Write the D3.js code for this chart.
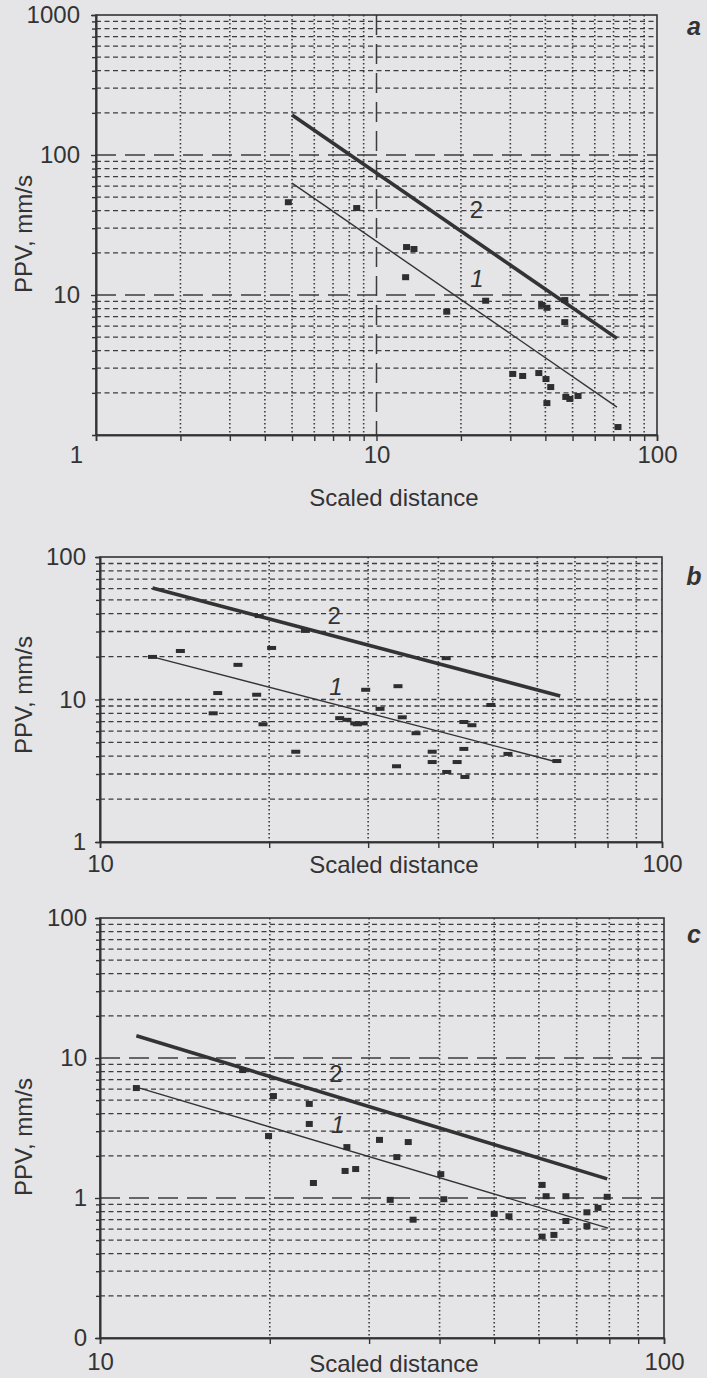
<!DOCTYPE html>
<html>
<head>
<meta charset="utf-8">
<script src="https://cdn.jsdelivr.net/npm/d3@7"></script>
<style>
body { margin: 0; background: #e5e5e7; }
svg { display: block; font-family: "Liberation Sans", Arial, sans-serif; }
</style>
</head>
<body>
<svg id="chart" width="707" height="1378"></svg>
<script>
// ---- panel a ----
var aTicksX = [1, 10, 100];
var aTicksY = [10, 100, 1000];
var aLabelsY = ["10", "100", "1000"];
var aPointsX = [4.85, 8.5, 12.8, 13.6, 12.7, 17.8, 24.5, 38.8, 40.5, 46.9, 46.9, 30.6, 33.2, 37.9, 40.2, 41.8, 40.5, 47.3, 48.9, 52.3, 72.6];
var aPointsY = [46, 41.8, 22, 21.3, 13.4, 7.6, 9.1, 8.5, 8.1, 9.2, 6.4, 2.73, 2.64, 2.77, 2.51, 2.2, 1.69, 1.87, 1.81, 1.9, 1.14];
var aLine1 = [[5, 63], [72, 1.58]];
var aLine2 = [[5, 193], [72, 4.9]];
var aLineLabels = [[22.7, 41, "2"], [22.8, 13.2, "1"]];

// ---- panel b ----
var bTicksX = [10, 100];
var bTicksY = [1, 10, 100];
var bLabelsY = ["1", "10", "100"];
var bPointsX = [12.4, 13.9, 15.9, 16.2, 17.6, 19, 19.2, 19.5, 20.2, 22.3, 23.2, 26.7, 27.5, 28.4, 28.7, 29.4, 29.7, 31.5, 33.7, 33.9, 34.5, 36.5, 39, 39, 41.3, 41.4, 43.2, 44.4, 44.4, 45.9, 44.6, 49.6, 53.2, 65];
var bPointsY = [19.9, 21.9, 8.0, 11.1, 17.5, 10.8, 38.5, 6.7, 23, 4.3, 30.3, 7.4, 7.2, 6.8, 6.7, 6.8, 11.7, 8.6, 3.4, 12.4, 7.5, 5.8, 4.3, 3.64, 19.5, 3.1, 3.64, 4.5, 6.95, 6.6, 2.86, 9.15, 4.15, 3.7];
var bLine1 = [[12.4, 19.9], [65, 3.64]];
var bLine2 = [[12.4, 60.6], [65.9, 10.6]];
var bLineLabels = [[26.1, 39.2, "2"], [26.3, 12.4, "1"]];

// ---- panel c ----
var cTicksX = [10, 100];
var cTicksY = [0.1, 1, 10, 100];
var cLabelsY = ["0", "1", "10", "100"];
var cPointsX = [11.6, 17.9, 20.3, 19.9, 23.5, 23.5, 23.9, 27.4, 27.2, 28.4, 31.3, 33.6, 35.2, 32.7, 35.9, 40.2, 40.7, 50, 53.1, 60.8, 61.8, 67, 60.8, 63.8, 67, 73, 73, 76.4, 79.3];
var cPointsY = [6.1, 8.2, 5.35, 2.77, 4.7, 3.38, 1.28, 2.31, 1.56, 1.61, 2.6, 1.96, 2.51, 0.97, 0.70, 1.48, 0.98, 0.77, 0.74, 1.24, 1.03, 1.03, 0.53, 0.545, 0.685, 0.79, 0.63, 0.85, 1.02];
var cLine1 = [[11.6, 6.2], [79.6, 0.61]];
var cLine2 = [[11.6, 14.4], [79.3, 1.37]];
var cLineLabels = [[26.2, 7.8, "2"], [26.4, 3.38, "1"]];

var INK = "#333";
var GRID = "#3c3c3c";
var FONT = "24px";
var svg = d3.select("#chart");

var panels = [
    { tag: "a", tagY: 35, left: 96, right: 657, top: 15, bottom: 435,
      xDomain: [1, 100], yDomain: [1, 1000],
      xTicks: aTicksX, yTicks: aTicksY, yLabels: aLabelsY,
      xLong: [10], yLong: [10, 100], xPad: 5, yPad: 11, titleY: 506, ppvY: 234,
      px: aPointsX, py: aPointsY, mark: [7, 6],
      line1: aLine1, line2: aLine2, lineLabels: aLineLabels },
    { tag: "b", tagY: 585, left: 100, right: 662, top: 557, bottom: 842,
      xDomain: [10, 100], yDomain: [1, 100],
      xTicks: bTicksX, yTicks: bTicksY, yLabels: bLabelsY,
      xLong: [], yLong: [], xPad: 7, yPad: 9, titleY: 873, ppvY: 695,
      px: bPointsX, py: bPointsY, mark: [9, 4],
      line1: bLine1, line2: bLine2, lineLabels: bLineLabels },
    { tag: "c", tagY: 943, left: 100, right: 664, top: 918, bottom: 1338,
      xDomain: [10, 100], yDomain: [0.1, 100],
      xTicks: cTicksX, yTicks: cTicksY, yLabels: cLabelsY,
      xLong: [], yLong: [1, 10], xPad: 9, yPad: 8, titleY: 1372, ppvY: 1137,
      px: cPointsX, py: cPointsY, mark: [7, 6],
      line1: cLine1, line2: cLine2, lineLabels: cLineLabels }
];

panels.forEach(drawPanel);

function isMajor(v) {
    var l = Math.log10(v);
    return Math.abs(l - Math.round(l)) < 1e-9;
}

function drawPanel(p) {
    var x = d3.scaleLog().domain(p.xDomain).range([p.left, p.right]);
    var y = d3.scaleLog().domain(p.yDomain).range([p.bottom, p.top]);
    var g = svg.append("g");

    var xMinor = x.ticks().filter(function (v) { return !isMajor(v); });
    var yMinor = y.ticks().filter(function (v) { return !isMajor(v); });
    var yMajorIn = y.ticks().filter(function (v) {
        return isMajor(v) && v > p.yDomain[0] && v < p.yDomain[1];
    });

    // horizontal grid
    g.selectAll(".hgrid").data(yMinor.concat(yMajorIn)).enter().append("line")
        .attr("x1", p.left).attr("x2", p.right)
        .attr("y1", function (d) { return y(d); })
        .attr("y2", function (d) { return y(d); })
        .attr("stroke", GRID)
        .attr("stroke-width", function (d) { return p.yLong.indexOf(d) >= 0 ? 1.5 : 1.3; })
        .attr("stroke-dasharray", function (d) { return p.yLong.indexOf(d) >= 0 ? "20,9" : "5,3.5"; });

    // vertical grid
    g.selectAll(".vgrid").data(xMinor.concat(p.xLong)).enter().append("line")
        .attr("y1", p.top).attr("y2", p.bottom)
        .attr("x1", function (d) { return x(d); })
        .attr("x2", function (d) { return x(d); })
        .attr("stroke", GRID)
        .attr("stroke-width", function (d) { return p.xLong.indexOf(d) >= 0 ? 1.5 : 1.6; })
        .attr("stroke-dasharray", function (d) { return p.xLong.indexOf(d) >= 0 ? "20,9" : "1.6,2.4"; });

    // frame
    g.append("rect")
        .attr("x", p.left).attr("y", p.top)
        .attr("width", p.right - p.left).attr("height", p.bottom - p.top)
        .attr("fill", "none").attr("stroke", INK).attr("stroke-width", 1.6);

    // axes
    g.append("g")
        .attr("transform", "translate(" + p.left + ",0)")
        .call(d3.axisLeft(y).tickValues(p.yTicks).tickSizeOuter(0).tickSizeInner(5).tickPadding(p.yPad)
            .tickFormat(function (d, i) { return p.yLabels[i]; }));
    g.append("g")
        .attr("transform", "translate(" + p.left + ",0)")
        .call(d3.axisLeft(y).tickValues(yMinor).tickSizeOuter(0).tickSize(4).tickFormat(""));

    var xAxis = g.append("g")
        .attr("transform", "translate(0," + p.bottom + ")")
        .call(d3.axisBottom(x).tickValues(p.xTicks).tickSizeOuter(0).tickSizeInner(6).tickPadding(p.xPad)
            .tickFormat(d3.format("d")));
    g.append("g")
        .attr("transform", "translate(0," + p.bottom + ")")
        .call(d3.axisBottom(x).tickValues(xMinor).tickSizeOuter(0).tickSize(6).tickFormat(""));

    g.selectAll(".domain").attr("stroke", INK).attr("stroke-width", 1.6);
    g.selectAll(".tick line").attr("stroke", INK).attr("stroke-width", 1.4);
    g.selectAll(".tick text").attr("fill", INK).style("font-size", FONT)
        .style("font-family", '"Liberation Sans", Arial, sans-serif');
    // panel a shows its x "1" just left of the corner
    xAxis.selectAll(".tick text").attr("dx", function (d) { return d === 1 ? -20 : 0; });

    // axis titles
    g.append("text")
        .attr("x", 394).attr("y", p.titleY)
        .attr("text-anchor", "middle")
        .attr("fill", INK).style("font-size", FONT)
        .text("Scaled distance");
    g.append("text")
        .attr("transform", "translate(32," + p.ppvY + ") rotate(-90)")
        .attr("text-anchor", "middle")
        .attr("fill", INK).style("font-size", FONT)
        .text("PPV, mm/s");

    // regression lines
    var line = d3.line()
        .x(function (d) { return x(d[0]); })
        .y(function (d) { return y(d[1]); });
    g.append("path").datum(p.line1).attr("d", line)
        .attr("fill", "none").attr("stroke", INK).attr("stroke-width", 1.4);
    g.append("path").datum(p.line2).attr("d", line)
        .attr("fill", "none").attr("stroke", INK).attr("stroke-width", 3.6);

    // points
    g.selectAll(".pt").data(p.px).enter().append("rect")
        .attr("x", function (d) { return x(d) - p.mark[0] / 2; })
        .attr("y", function (d, i) { return y(p.py[i]) - p.mark[1] / 2; })
        .attr("width", p.mark[0]).attr("height", p.mark[1])
        .attr("fill", "#2e2e2e");

    // line labels
    g.selectAll(".ll").data(p.lineLabels).enter().append("text")
        .attr("x", function (d) { return x(d[0]); })
        .attr("y", function (d) { return y(d[1]); })
        .attr("dy", "0.36em")
        .attr("text-anchor", "middle")
        .attr("fill", INK).style("font-size", FONT)
        .style("font-style", function (d) { return d[2] === "1" ? "italic" : "normal"; })
        .text(function (d) { return d[2]; });

    // panel tag
    g.append("text")
        .attr("x", 694).attr("y", p.tagY)
        .attr("text-anchor", "middle")
        .attr("fill", INK).style("font-size", "25px")
        .style("font-weight", "bold").style("font-style", "italic")
        .text(p.tag);
}
</script>
</body>
</html>
